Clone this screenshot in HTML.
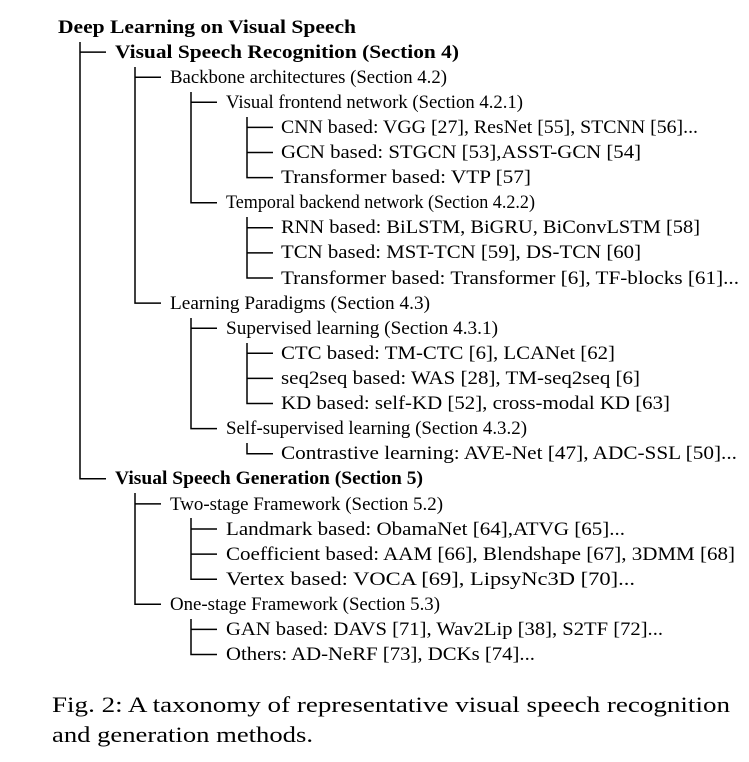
<!DOCTYPE html>
<html><head><meta charset="utf-8"><style>
html,body{margin:0;padding:0;background:#fff;}
svg{display:block;}
text{font-family:"Liberation Serif",serif;font-size:18.5px;fill:#000;}
.b{font-weight:bold;}
.c{font-size:22px;}
</style></head><body>
<svg width="749" height="762" viewBox="0 0 749 762" xmlns="http://www.w3.org/2000/svg">
<g stroke="#000" stroke-width="1.5" fill="none">
<path d="M80 42V478.8H106 M80 52.1H106"/>
<path d="M135 67V303.1H161 M135 77.2H161"/>
<path d="M135 493V604.3H161 M135 503.9H161"/>
<path d="M191 92V202.7H217 M191 102.3H217"/>
<path d="M191 318V428.6H217 M191 328.2H217"/>
<path d="M191 518V579.2H217 M191 529H217 M191 554.1H217"/>
<path d="M191 619V654.5H217 M191 629.4H217"/>
<path d="M247 117V177.6H273 M247 127.4H273 M247 152.5H273"/>
<path d="M247 217V278H273 M247 227.8H273 M247 252.9H273"/>
<path d="M247 343V403.5H273 M247 353.3H273 M247 378.4H273"/>
<path d="M247 443V453.7H273"/>
</g>
<text class="b" x="58" y="33" textLength="298" lengthAdjust="spacingAndGlyphs">Deep Learning on Visual Speech</text>
<text class="b" x="115" y="58" textLength="344" lengthAdjust="spacingAndGlyphs">Visual Speech Recognition (Section 4)</text>
<text x="170" y="83" textLength="277" lengthAdjust="spacingAndGlyphs">Backbone architectures (Section 4.2)</text>
<text x="226" y="108" textLength="297" lengthAdjust="spacingAndGlyphs">Visual frontend network (Section 4.2.1)</text>
<text x="281" y="133" textLength="417" lengthAdjust="spacingAndGlyphs">CNN based: VGG [27], ResNet [55], STCNN [56]...</text>
<text x="281" y="158" textLength="360" lengthAdjust="spacingAndGlyphs">GCN based: STGCN [53],ASST-GCN [54]</text>
<text x="281" y="183" textLength="250" lengthAdjust="spacingAndGlyphs">Transformer based: VTP [57]</text>
<text x="226" y="208" textLength="309" lengthAdjust="spacingAndGlyphs">Temporal backend network (Section 4.2.2)</text>
<text x="281" y="233" textLength="419" lengthAdjust="spacingAndGlyphs">RNN based: BiLSTM, BiGRU, BiConvLSTM [58]</text>
<text x="281" y="258" textLength="360" lengthAdjust="spacingAndGlyphs">TCN based: MST-TCN [59], DS-TCN [60]</text>
<text x="281" y="284" textLength="458" lengthAdjust="spacingAndGlyphs">Transformer based: Transformer [6], TF-blocks [61]...</text>
<text x="170" y="309" textLength="260" lengthAdjust="spacingAndGlyphs">Learning Paradigms (Section 4.3)</text>
<text x="226" y="334" textLength="272" lengthAdjust="spacingAndGlyphs">Supervised learning (Section 4.3.1)</text>
<text x="281" y="359" textLength="334" lengthAdjust="spacingAndGlyphs">CTC based: TM-CTC [6], LCANet [62]</text>
<text x="281" y="384" textLength="359" lengthAdjust="spacingAndGlyphs">seq2seq based: WAS [28], TM-seq2seq [6]</text>
<text x="281" y="409" textLength="389" lengthAdjust="spacingAndGlyphs">KD based: self-KD [52], cross-modal KD [63]</text>
<text x="226" y="434" textLength="301" lengthAdjust="spacingAndGlyphs">Self-supervised learning (Section 4.3.2)</text>
<text x="281" y="459" textLength="456" lengthAdjust="spacingAndGlyphs">Contrastive learning: AVE-Net [47], ADC-SSL [50]...</text>
<text class="b" x="115" y="484" textLength="308" lengthAdjust="spacingAndGlyphs">Visual Speech Generation (Section 5)</text>
<text x="170" y="510" textLength="273" lengthAdjust="spacingAndGlyphs">Two-stage Framework (Section 5.2)</text>
<text x="226" y="535" textLength="399" lengthAdjust="spacingAndGlyphs">Landmark based: ObamaNet [64],ATVG [65]...</text>
<text x="226" y="560" textLength="509" lengthAdjust="spacingAndGlyphs">Coefficient based: AAM [66], Blendshape [67], 3DMM [68]</text>
<text x="226" y="585" textLength="409" lengthAdjust="spacingAndGlyphs">Vertex based: VOCA [69], LipsyNc3D [70]...</text>
<text x="170" y="610" textLength="270" lengthAdjust="spacingAndGlyphs">One-stage Framework (Section 5.3)</text>
<text x="226" y="635" textLength="437" lengthAdjust="spacingAndGlyphs">GAN based: DAVS [71], Wav2Lip [38], S2TF [72]...</text>
<text x="226" y="660" textLength="309" lengthAdjust="spacingAndGlyphs">Others: AD-NeRF [73], DCKs [74]...</text>
<text class="c" x="52" y="712" textLength="678" lengthAdjust="spacingAndGlyphs">Fig. 2: A taxonomy of representative visual speech recognition</text>
<text class="c" x="52" y="742" textLength="261" lengthAdjust="spacingAndGlyphs">and generation methods.</text>
</svg>
</body></html>
